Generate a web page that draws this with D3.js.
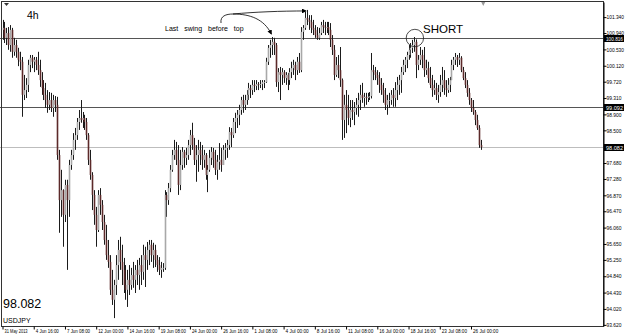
<!DOCTYPE html>
<html>
<head>
<meta charset="utf-8">
<script src="https://cdn.jsdelivr.net/npm/d3@7"></script>
<style>
  body { margin: 0; background: #fff; }
  svg { display: block; font-family: "Liberation Sans", Arial, sans-serif; }
</style>
</head>
<body>
<div class="chart"></div>
<script>
// USDJPY 4h candles, 31 May 2013 - 26 Jul 2013
var open = [101.02,101.07,100.82,100.94,100.64,101.02,100.47,100.64,100.47,100.27,
100.22,99.39,99.51,99.64,100.14,100.32,100.22,100.27,100.14,100.01,
99.76,99.56,99.39,99.26,99.14,99.26,99.06,99.26,99.14,97.88,
96.75,97.00,96.38,97.13,96.75,97.63,97.88,98.26,98.38,98.71,
98.81,98.76,98.81,98.71,98.38,97.76,97.38,96.88,96.38,96.00,
96.88,96.63,96.20,95.75,95.37,95.20,94.50,94.25,94.62,95.12,
95.50,95.20,95.00,94.62,94.50,94.75,94.62,94.87,94.75,95.00,
94.87,95.12,94.95,95.37,95.25,95.50,95.63,95.37,95.50,95.25,
95.12,95.00,95.05,95.05,96.88,96.75,97.05,97.51,97.88,98.01,
97.76,97.13,97.63,97.96,97.81,97.88,98.13,98.38,98.13,97.76,
97.88,98.01,97.88,97.76,97.88,97.38,97.51,97.81,97.96,97.76,
97.51,97.71,97.76,97.63,98.01,98.06,98.13,98.46,98.38,98.71,
98.81,98.89,99.01,99.26,99.14,99.26,99.39,99.56,99.51,99.64,
99.61,99.66,99.64,99.66,99.71,99.71,100.22,100.57,100.64,100.72,
100.64,99.71,99.96,99.89,99.96,99.81,99.89,99.76,99.96,100.06,
100.14,100.01,100.22,100.01,100.97,101.07,101.32,101.27,101.22,101.07,
101.02,100.89,100.82,100.94,101.14,101.09,101.07,101.09,101.02,100.77,
100.52,99.89,100.14,100.01,99.76,98.76,99.14,99.01,98.81,99.01,
98.96,99.06,99.14,99.26,99.39,99.31,99.34,99.31,99.34,99.36,
100.01,99.96,99.89,99.81,99.64,99.51,99.39,99.14,99.26,99.26,
99.39,99.31,99.51,99.64,99.76,99.96,100.14,100.27,100.39,100.52,
100.57,100.64,100.72,100.14,100.27,100.39,100.27,100.01,100.06,99.81,
99.64,99.51,99.56,99.39,99.46,99.64,99.76,99.56,99.51,99.64,
99.76,100.14,100.27,100.34,100.27,100.32,100.01,99.81,99.64,99.44,
99.26,99.06,98.96,98.76,98.56,98.13];

var high = [101.27,101.22,101.07,101.09,101.14,101.07,100.82,100.77,100.57,100.47,
100.34,99.89,99.81,100.27,100.39,100.39,100.34,100.34,100.47,100.27,
99.96,99.76,99.69,99.51,99.46,99.44,99.39,99.36,99.34,98.01,
97.51,97.02,97.26,97.26,97.76,98.01,98.43,98.56,98.81,99.01,
99.26,98.96,98.89,98.81,98.43,98.01,97.45,97.00,96.58,97.00,
97.05,96.75,96.38,96.13,95.75,95.37,95.00,94.75,95.37,95.75,
95.83,95.63,95.30,95.12,95.00,95.12,95.05,95.20,95.12,95.25,
95.30,95.37,95.63,95.58,95.70,95.75,95.75,95.68,95.63,95.37,
95.32,95.20,95.17,97.00,96.95,97.18,97.63,98.01,98.26,98.21,
98.13,98.01,98.08,98.01,98.06,98.26,98.51,98.69,98.31,98.13,
98.26,98.21,98.13,98.01,97.93,97.63,98.01,98.08,98.06,98.01,
97.88,98.18,98.06,98.13,98.18,98.26,98.58,98.56,98.81,98.94,
99.01,99.14,99.34,99.39,99.39,99.51,99.69,99.64,99.76,99.76,
99.76,99.71,99.76,99.76,99.76,100.32,100.64,100.77,100.84,100.82,
100.69,100.06,100.09,100.06,100.01,99.96,99.94,100.06,100.22,100.27,
100.22,100.34,100.44,101.09,101.14,101.47,101.52,101.39,101.39,101.27,
101.14,101.09,101.07,101.22,101.27,101.22,101.22,101.22,101.19,100.89,
100.64,100.34,100.39,100.59,99.80,99.39,99.51,99.39,99.26,99.26,
99.21,99.31,99.44,99.64,99.69,99.44,99.44,99.44,99.46,100.44,
100.14,100.09,100.01,99.96,99.81,99.69,99.56,99.39,99.44,99.51,
99.56,99.71,99.84,99.89,100.09,100.27,100.34,100.47,100.64,100.69,
100.77,100.84,100.78,100.39,100.59,100.52,100.59,100.27,100.22,100.09,
99.89,99.76,99.69,99.64,99.89,100.09,100.01,99.76,99.81,99.84,
100.27,100.34,100.44,100.39,100.44,100.36,100.09,99.96,99.76,99.56,
99.31,99.26,99.01,98.89,98.63,98.26];

var low = [100.77,100.69,100.64,100.52,100.47,100.32,100.37,100.32,100.11,100.01,
98.84,99.26,99.31,99.46,99.96,100.06,99.96,100.01,99.89,99.59,
99.39,99.26,99.06,98.94,99.01,98.96,98.84,98.96,97.76,95.93,
96.33,95.58,96.20,95.00,96.33,97.51,97.76,98.01,98.26,98.51,
98.69,98.56,98.51,98.26,97.63,97.26,96.50,96.13,95.58,95.95,
96.38,96.00,95.63,95.25,95.05,94.37,94.12,93.79,94.37,94.75,
95.00,94.62,94.42,94.25,94.07,94.37,94.50,94.55,94.42,94.62,
94.50,94.62,94.75,94.57,95.00,95.12,95.20,95.05,95.07,94.95,
94.87,94.80,94.95,95.00,96.33,96.63,96.95,97.46,97.76,97.63,
96.88,97.00,97.51,97.56,97.63,97.76,97.88,98.01,97.63,97.21,
97.46,97.63,97.51,97.56,97.26,96.95,97.46,97.63,97.56,97.38,
97.26,97.51,97.46,97.63,97.76,97.81,98.01,98.08,98.31,98.43,
98.56,98.63,98.89,98.94,99.01,99.14,99.26,99.31,99.39,99.46,
99.51,99.51,99.56,99.51,99.56,99.69,100.14,100.32,100.39,100.39,
99.59,99.46,99.26,99.64,99.69,99.64,99.51,99.64,99.81,99.89,
99.76,99.89,99.94,99.96,100.77,101.02,101.14,101.02,100.94,100.89,
100.82,100.77,100.77,100.89,100.94,100.89,100.94,100.89,100.59,100.39,
99.76,99.84,99.81,99.59,98.26,98.31,98.43,98.63,98.58,98.76,
98.63,98.89,98.84,99.01,99.19,99.09,99.14,99.21,99.26,99.30,
99.76,99.76,99.64,99.44,99.39,99.19,99.01,98.89,99.06,99.14,
99.09,99.09,99.26,99.39,99.44,99.89,99.96,100.06,100.27,100.32,
100.44,100.47,99.81,100.01,100.14,100.06,99.84,99.89,99.69,99.56,
99.34,99.39,99.26,99.19,99.34,99.46,99.39,99.34,99.44,99.46,
99.76,100.01,100.14,100.09,100.14,99.96,99.76,99.56,99.34,99.14,
98.96,98.89,98.63,98.51,98.06,98.01];

var close = [101.07,100.82,100.94,100.64,101.02,100.47,100.64,100.47,100.27,100.22,
99.39,99.51,99.64,100.14,100.32,100.22,100.27,100.14,100.01,99.76,
99.56,99.39,99.26,99.14,99.26,99.06,99.26,99.14,97.88,96.75,
97.00,96.38,97.13,96.75,97.63,97.88,98.26,98.38,98.71,98.81,
98.76,98.81,98.71,98.38,97.76,97.38,96.88,96.38,96.00,96.88,
96.63,96.20,95.75,95.37,95.20,94.50,94.25,94.62,95.12,95.50,
95.20,95.00,94.62,94.50,94.75,94.62,94.87,94.75,95.00,94.87,
95.12,94.95,95.37,95.25,95.50,95.63,95.37,95.50,95.25,95.12,
95.00,95.05,95.05,96.88,96.75,97.05,97.51,97.88,98.01,97.76,
97.13,97.63,97.96,97.81,97.88,98.13,98.38,98.13,97.76,97.88,
98.01,97.88,97.76,97.88,97.38,97.51,97.81,97.96,97.76,97.51,
97.71,97.76,97.63,98.01,98.06,98.13,98.46,98.38,98.71,98.81,
98.89,99.01,99.26,99.14,99.26,99.39,99.56,99.51,99.64,99.61,
99.66,99.64,99.66,99.71,99.71,100.22,100.57,100.64,100.72,100.64,
99.71,99.96,99.89,99.96,99.81,99.89,99.76,99.96,100.06,100.14,
100.01,100.22,100.01,100.97,101.07,101.32,101.27,101.22,101.07,101.02,
100.89,100.82,100.94,101.14,101.09,101.07,101.09,101.02,100.77,100.52,
99.89,100.14,100.01,99.76,98.76,99.14,99.01,98.81,99.01,98.96,
99.06,99.14,99.26,99.39,99.31,99.34,99.31,99.34,99.36,100.01,
99.96,99.89,99.81,99.64,99.51,99.39,99.14,99.26,99.26,99.39,
99.31,99.51,99.64,99.76,99.96,100.14,100.27,100.39,100.52,100.57,
100.64,100.72,100.14,100.27,100.39,100.27,100.01,100.06,99.81,99.64,
99.51,99.56,99.39,99.46,99.64,99.76,99.56,99.51,99.64,99.76,
100.14,100.27,100.34,100.27,100.32,100.01,99.81,99.64,99.44,99.26,
99.06,98.96,98.76,98.56,98.13,98.08];

// time axis labels (one every 16 bars)
var timeBars = [0,16,32,48,64,80,96,112,128,144,160,176,192,208,224,240];
var timeLabels = ["31 May 2013","4 Jun 16:00","7 Jun 08:00","12 Jun 00:00","14 Jun 16:00",
  "19 Jun 08:00","24 Jun 00:00","26 Jun 16:00","1 Jul 08:00","4 Jul 00:00","8 Jul 16:00",
  "11 Jul 08:00","16 Jul 00:00","18 Jul 16:00","23 Jul 08:00","26 Jul 00:00"];

// price scale labels
var priceTicks = [101.340,100.940,100.530,100.120,99.720,99.310,98.900,98.500,97.680,97.280,
  96.870,96.470,96.060,95.650,95.250,94.840,94.430,94.020,93.620];

// horizontal levels drawn on the chart
var levels = [100.816, 99.092, 98.082];
var levelColors = ["#555", "#555", "#bdbdbd"];

var width = 625, height = 335;
var plot = {left: 2, right: 603, top: 2, bottom: 326};

var svg = d3.select(".chart").append("svg").attr("width", width).attr("height", height);

var y = d3.scaleLinear().domain([93.592, 101.719]).range([plot.bottom, plot.top]);
var x = d3.scaleLinear().domain([0, 240]).range([2.5, 471]);

//levels
svg.selectAll(".level").data(levels).enter().append("line")
  .attr("x1", 0).attr("x2", plot.right)
  .attr("y1", function(d){ return Math.round(y(d)) + 0.5; })
  .attr("y2", function(d){ return Math.round(y(d)) + 0.5; })
  .attr("stroke", function(d,i){ return levelColors[i]; })
  .attr("stroke-width", 1);

//candles
var bars = d3.range(close.length);
var candle = svg.append("g").attr("class", "candles");

candle.selectAll(".wick").data(bars).enter().append("line")
  .attr("x1", function(i){ return Math.round(x(i)) + 0.5; })
  .attr("x2", function(i){ return Math.round(x(i)) + 0.5; })
  .attr("y1", function(i){ return y(high[i]); })
  .attr("y2", function(i){ return y(low[i]); })
  .attr("stroke", "#1b1b1b")
  .attr("stroke-width", 1);

candle.selectAll(".body").data(bars).enter().append("rect")
  .attr("x", function(i){ return Math.round(x(i)) + 0.5 - 0.8; })
  .attr("width", 1.6)
  .attr("y", function(i){ return y(Math.max(open[i], close[i])); })
  .attr("height", function(i){ return Math.max(0.8, Math.abs(y(open[i]) - y(close[i]))); })
  .attr("fill", function(i){ return close[i] >= open[i] ? "#a8a8a8" : "#5c2a2a"; });

//frame
svg.append("rect")
  .attr("x", plot.left - 0.5).attr("y", plot.top - 0.5)
  .attr("width", plot.right - plot.left + 1).attr("height", plot.bottom - plot.top + 1)
  .attr("fill", "none").attr("stroke", "#333");

//price axis
var yAxis = d3.axisRight(y).tickValues(priceTicks).tickSize(3).tickSizeOuter(0)
  .tickFormat(d3.format(".3f"));
var yg = svg.append("g").attr("transform", "translate(" + (plot.right + 0.5) + ",0)").call(yAxis);
yg.select(".domain").attr("stroke", "#000");
yg.selectAll("line").attr("stroke", "#000");
yg.selectAll("text").attr("x", 3).style("font-size", "5.4px").attr("fill", "#000")
  .attr("textLength", function(d){ return d3.format(".3f")(d).length * 2.5; })
  .attr("lengthAdjust", "spacingAndGlyphs");

// boxed labels for the levels
var box = svg.selectAll(".lvlbox").data(levels).enter().append("g")
  .attr("transform", function(d){ return "translate(" + (plot.right + 1) + "," + (Math.round(y(d)) + 0.5) + ")"; });
box.append("rect").attr("x", 0).attr("y", -3.5).attr("width", 20).attr("height", 7).attr("fill", "#000");
box.append("text").attr("x", 2).attr("y", 2).style("font-size", "5.4px").attr("fill", "#fff")
  .attr("textLength", 17).attr("lengthAdjust", "spacingAndGlyphs")
  .text(function(d){ return d3.format(".3f")(d); });

//time axis
var xAxis = d3.axisBottom(x).tickValues(timeBars).tickSize(3).tickSizeOuter(0)
  .tickFormat(function(d,i){ return timeLabels[i]; });
var xg = svg.append("g").attr("transform", "translate(0," + (plot.bottom + 0.5) + ")").call(xAxis);
xg.select(".domain").remove();
xg.selectAll("line").attr("stroke", "#000");
xg.selectAll("text").attr("text-anchor", "start").attr("x", 1.5).attr("y", 2.5)
  .style("font-size", "5.4px").attr("fill", "#000")
  .attr("textLength", function(d,i){ return timeLabels[i].length * 2.1; })
  .attr("lengthAdjust", "spacingAndGlyphs");

// small chart markers
svg.append("path").attr("d", "M4,3 L9,3 L6.5,6 Z").attr("fill", "#333");
svg.append("path").attr("d", "M" + (x(245) + 0.5) + ",2 l4,0 l-2,4 Z").attr("fill", "#999");

// texts
svg.append("text").attr("x", 27).attr("y", 19).style("font-size", "10.5px").text("4h");
svg.append("text").attr("x", 3).attr("y", 308).style("font-size", "12.5px").text("98.082");
svg.append("text").attr("x", 3).attr("y", 323).style("font-size", "7px").text("USDJPY");

// annotation
svg.append("text").attr("x", 165).attr("y", 31).style("font-size", "7px")
  .style("word-spacing", "4px").text("Last swing before top");
svg.append("text").attr("x", 423).attr("y", 33).style("font-size", "11.5px").text("SHORT");
svg.append("circle").attr("cx", x(211) + 0.5).attr("cy", y(100.816)).attr("r", 8.7)
  .attr("fill", "none").attr("stroke", "#222").attr("stroke-width", 0.8);

var defs = svg.append("defs");
defs.append("marker").attr("id", "arr").attr("viewBox", "0 0 6 6")
  .attr("refX", 5).attr("refY", 3).attr("markerWidth", 6).attr("markerHeight", 6)
  .attr("orient", "auto").append("path").attr("d", "M0,0 L6,3 L0,6 Z").attr("fill", "#000");

svg.append("path").attr("d", "M221,23 C220,16 226,14 233,14 C255,12 280,11 " + (x(156) - 1) + "," + (y(high[156]) + 1))
  .attr("fill", "none").attr("stroke", "#000").attr("stroke-width", 0.8).attr("marker-end", "url(#arr)");
svg.append("path").attr("d", "M233,14 C250,14 264,19 " + (x(138) - 0.5) + "," + (y(high[138]) - 3))
  .attr("fill", "none").attr("stroke", "#000").attr("stroke-width", 0.8).attr("marker-end", "url(#arr)");
</script>
</body>
</html>
